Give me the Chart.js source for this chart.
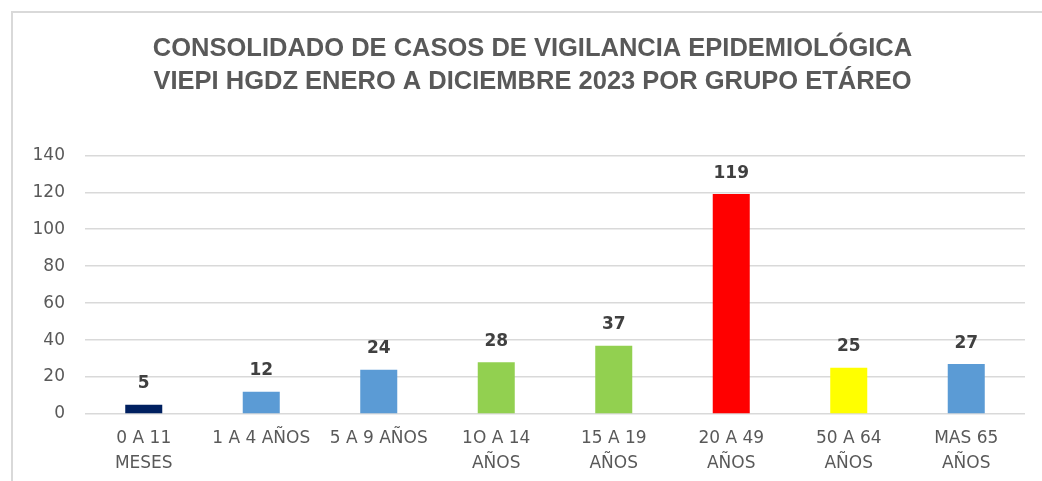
<!DOCTYPE html>
<html>
<head>
<meta charset="utf-8">
<script src="https://cdn.jsdelivr.net/npm/chart.js@4/dist/chart.umd.min.js"></script>
<style>
  html, body { margin: 0; padding: 0; background: #fff; overflow: hidden; }
  body { width: 1042px; height: 481px; position: relative; }
  .frame { position: absolute; left: 11px; top: 11px; width: 1100px; height: 600px; border: 2px solid #d9d9d9; box-sizing: border-box; }
  .wrap { position: absolute; left: 12px; top: 12px; width: 1040px; height: 469px; }
</style>
</head>
<body>
<div class="frame"></div>
<div class="wrap"><canvas id="chart"></canvas></div>
<script>
// Data
const categories = [
  ['0 A 11', 'MESES'],
  '1 A 4 AÑOS',
  '5 A 9 AÑOS',
  ['1O A 14', 'AÑOS'],
  ['15 A 19', 'AÑOS'],
  ['20 A 49', 'AÑOS'],
  ['50 A 64', 'AÑOS'],
  ['MAS 65', 'AÑOS']
];
const casos = [5, 12, 24, 28, 37, 119, 25, 27];
const barColors = ['#002060', '#5b9bd5', '#5b9bd5', '#92d050', '#92d050', '#ff0000', '#ffff00', '#5b9bd5'];
const titleLines = [
  'CONSOLIDADO DE CASOS DE VIGILANCIA EPIDEMIOLÓGICA',
  'VIEPI HGDZ ENERO A DICIEMBRE 2023 POR GRUPO ETÁREO'
];

const tickFont = '"DejaVu Sans", sans-serif';

// value labels over the bars
const valueLabels = {
  id: 'valueLabels',
  afterDatasetsDraw(chart) {
    const ctx = chart.ctx;
    const meta = chart.getDatasetMeta(0);
    ctx.save();
    ctx.font = 'bold 17px "DejaVu Sans", sans-serif';
    ctx.fillStyle = '#404040';
    ctx.textAlign = 'center';
    ctx.textBaseline = 'middle';
    meta.data.forEach((bar, i) => {
      ctx.fillText(casos[i], bar.x, bar.y - 21);
    });
    ctx.restore();
  }
};

// title sits a little right of the canvas centre in the original
const titleShift = {
  id: 'titleShift',
  afterLayout(chart) {
    if (chart.titleBlock) chart.titleBlock.left += 28;
  }
};

new Chart(document.getElementById('chart'), {
  type: 'bar',
  data: {
    labels: categories,
    datasets: [{
      data: casos,
      backgroundColor: barColors,
      categoryPercentage: 1,
      barPercentage: 0.315
    }]
  },
  options: {
    responsive: true,
    maintainAspectRatio: false,
    animation: false,
    layout: { padding: { left: 0, right: 27, top: 0, bottom: 0 } },
    plugins: {
      legend: { display: false },
      tooltip: { enabled: false },
      title: {
        display: true,
        text: titleLines,
        color: '#595959',
        font: { family: 'Liberation Sans, sans-serif', size: 25.5, weight: 'bold', lineHeight: 1.3 },
        padding: { top: 20, bottom: 57 }
      }
    },
    scales: {
      x: {
        grid: { display: false },
        border: { display: false },
        ticks: {
          color: '#595959',
          font: { family: tickFont, size: 17, lineHeight: 1.42 },
          padding: 5,
          maxRotation: 0,
          autoSkip: false
        },
        afterFit(scale) { scale.height = 67; }
      },
      y: {
        min: 0,
        max: 140,
        grid: { color: '#d9d9d9', lineWidth: 1.5, drawTicks: false },
        border: { display: false },
        ticks: {
          stepSize: 20,
          color: '#595959',
          font: { family: tickFont, size: 17 },
          padding: 20
        },
        afterFit(scale) { scale.width = 73; }
      }
    }
  },
  plugins: [valueLabels, titleShift]
});
</script>
</body>
</html>
